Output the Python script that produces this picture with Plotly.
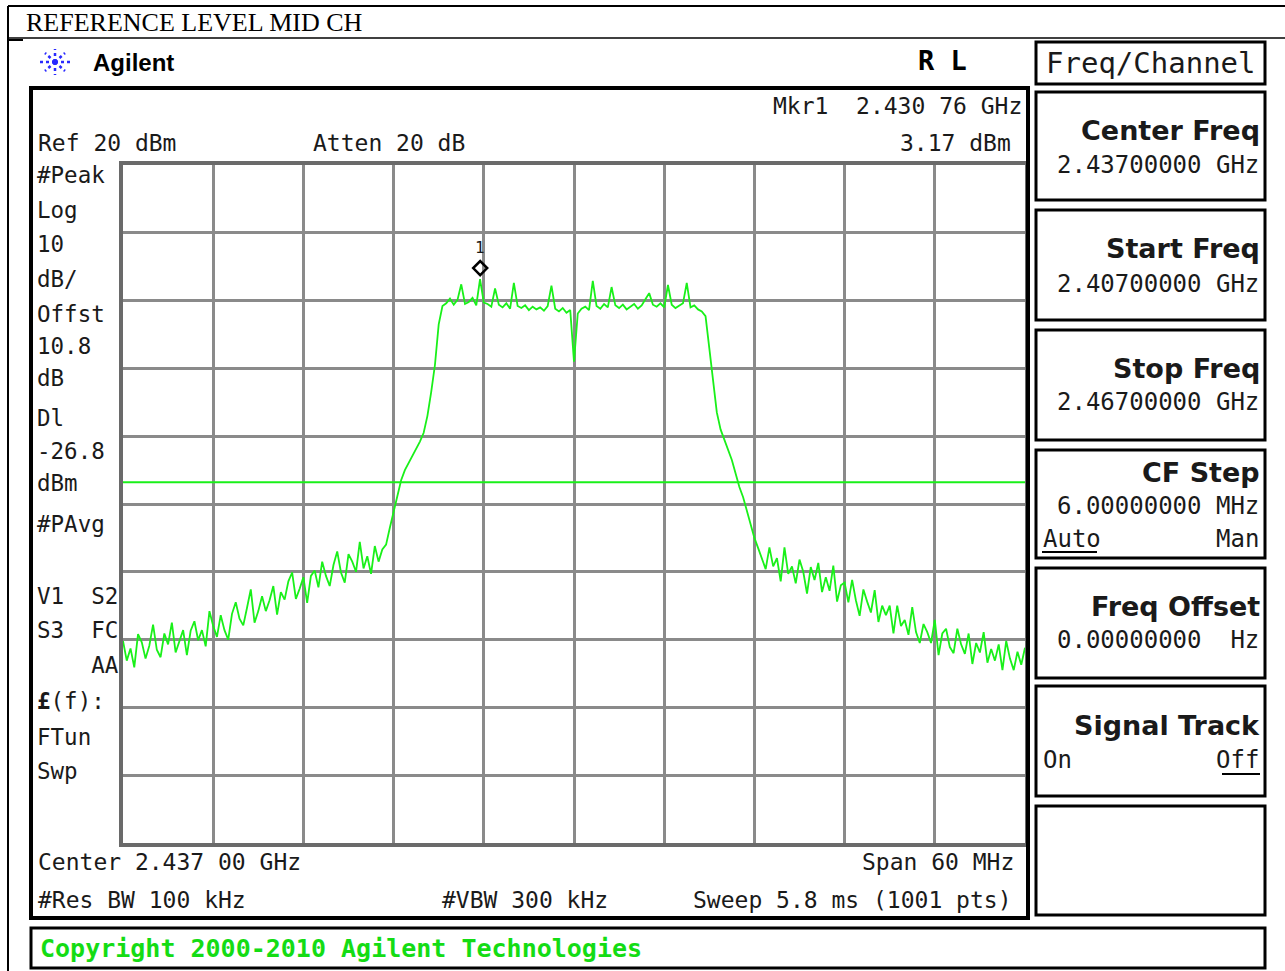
import numpy as np
import plotly.graph_objects as go

W, H = 1285, 971

# ---------------- data ----------------
freq_start_ghz = 2.407
freq_stop_ghz = 2.467
ref_level_dbm = 20
scale_db_div = 10
display_line_dbm = -26.8
marker_freq_ghz = 2.43076
marker_level_dbm = 3.17

left_skirt = [
    -50.2, -53.1, -51.3, -54.1, -49.2, -50.4, -52.8, -50.9, -47.8, -51.5,
    -52.6, -49.1, -50.7, -47.5, -51.9, -50.4, -48.6, -52.3, -48.7, -47.3,
    -50.1, -48.6, -51.0, -45.8, -48.0, -49.6, -46.4, -48.6, -50.0, -46.2,
    -44.5, -46.9, -47.9, -45.3, -42.6, -47.5, -45.8, -43.6, -45.8, -44.2,
    -42.1, -46.3, -43.0, -44.1, -41.4, -40.1, -44.0, -42.5, -40.8, -44.6,
    -40.6, -39.8, -42.3, -38.5, -40.6, -42.1, -39.0, -37.0, -40.1, -41.6,
    -37.4, -38.5, -40.0, -35.6, -39.5, -37.7, -40.3, -36.2, -38.5, -36.7,
]
rising_edge = [
    -36.0, -33.5, -31.0, -28.5, -26.5, -25.0, -24.0, -23.0, -22.0, -20.8,
    -19.5, -17.0, -13.5, -9.5, -3.5, -0.8,
]
channel_top = [
    -0.4, 0.3, -0.6, 0.1, 2.4, -0.5, -0.2, 0.4, -0.7, 3.17,
    -0.3, -0.5, -0.9, 1.8, -0.6, -1.0, -0.4, -1.2, 2.6, -0.8,
    -1.1, -0.7, -1.4, -0.9, -1.3, -1.0, -1.5, -0.8, 2.2, -1.2,
    -1.6, -1.1, -1.8, -1.4, -9.0, -1.9, -1.2, -0.9, -1.4, 2.9,
    -0.8, -1.2, -0.5, -1.0, 2.0, -0.7, -1.1, -0.6, -1.3, -0.9,
    -0.5, -1.2, -0.7, 0.2, 1.1, -0.6, -0.9, -0.4, -1.0, 2.3,
    -0.6, -1.1, -0.8, -0.4, 2.6, -1.0, -0.7, -1.3, -1.6, -2.3,
]
falling_edge = [
    -7.0, -12.0, -16.5, -19.0, -20.5, -22.0, -23.5, -25.5, -27.5, -29.0,
    -31.0, -33.0, -35.0, -36.5, -38.2,
]
right_skirt = [
    -39.6, -36.4, -39.2, -38.0, -41.4, -36.4, -40.3, -39.2, -41.7, -38.2,
    -40.0, -43.2, -39.3, -41.2, -38.7, -43.0, -40.8, -42.8, -39.1, -44.4,
    -42.0, -41.6, -44.5, -41.2, -44.2, -46.5, -42.6, -44.4, -46.0, -42.7,
    -47.4, -45.0, -46.4, -45.0, -49.1, -45.0, -48.0, -47.1, -49.3, -45.2,
    -48.9, -50.5, -47.7, -48.9, -50.5, -47.1, -52.3, -49.1, -48.4, -51.1,
    -52.0, -48.4, -50.7, -52.1, -49.1, -53.6, -50.5, -51.9, -48.9, -53.4,
    -51.4, -53.1, -50.7, -54.5, -50.2, -52.8, -54.5, -51.8, -53.7, -51.2,
]
levels_dbm = left_skirt + rising_edge + channel_top + falling_edge + right_skirt
freqs_ghz = np.linspace(freq_start_ghz, freq_stop_ghz, len(levels_dbm))

left_annot = ["#Peak", "Log", "10", "dB/", "Offst", "10.8", "dB", "Dl", "-26.8",
              "dBm", "#PAvg", "V1  S2", "S3  FC", "    AA", "<b>£</b>(f):", "FTun", "Swp"]

# ---------------- layout helpers ----------------
def P(px):
    return px / W

def Q(py):
    return 1 - py / H

X0, X1, Y0, Y1 = 123, 1025, 165, 843
MONO = "DejaVu Sans Mono"
TXT = "#1a1a1a"

fig = go.Figure()
fig.add_trace(go.Scatter(x=freqs_ghz, y=levels_dbm, mode="lines",
                         line=dict(color="#19f019", width=1.8), hoverinfo="skip",
                         showlegend=False))

shapes = []
annots = []

def text(px, py, s, size=23, anchor="left", color=TXT, family=MONO):
    annots.append(dict(x=P(px), y=Q(py), xref="paper", yref="paper", text=s,
                       showarrow=False, xanchor=anchor, yanchor="middle",
                       font=dict(family=family, size=size, color=color)))

def rect(x0, y0, x1, y1, color="black", width=3):
    shapes.append(dict(type="rect", xref="paper", yref="paper",
                       x0=P(x0), x1=P(x1), y0=Q(y0), y1=Q(y1),
                       line=dict(color=color, width=width)))

def line(x0, y0, x1, y1, color="black", width=1.5, dash="solid"):
    shapes.append(dict(type="line", xref="paper", yref="paper",
                       x0=P(x0), x1=P(x1), y0=Q(y0), y1=Q(y1),
                       line=dict(color=color, width=width, dash=dash)))

# outer document frame + title
line(8, 6, 1285, 6, width=2)
line(8, 6, 8, 971, width=2)
line(8, 38, 1285, 38, width=1.5)
line(8, 40, 23, 40, width=2)
text(24, 22, "REFERENCE LEVEL MID CH", size=26, color="black", family="Liberation Serif")

# Agilent logo
cx, cy = 55, 62
for dx, dy in [(15, 0), (-15, 0), (0, 13), (0, -13), (10, 9), (-10, -9), (10, -9), (-10, 9)]:
    line(cx, cy, cx + dx, cy + dy, color="#2a2aff", width=2.5, dash="dot")
text(91, 62, "<b>Agilent</b>", size=24, color="black", family="Liberation Sans")
text(969, 60, "<b>R L</b>", size=27, color="black", family=MONO, anchor="right")

# main display frame
rect(31, 88, 1028, 918, width=4)

# softkey panel
rect(1036, 42, 1265, 84, width=3)
text(1151, 63, "Freq/Channel", size=29, anchor="center")
boxes = [(92, 200), (210, 320), (330, 440), (450, 558), (568, 678), (686, 796), (806, 915)]
for y0, y1 in boxes:
    rect(1036, y0, 1265, y1, width=3)

SK = "DejaVu Sans"
def key(py, s):
    text(1262, py, "<b>" + s + "</b>", size=27, anchor="right", family=SK)

key(130, "Center Freq"); text(1261, 165, "2.43700000 GHz", size=24, anchor="right")
key(249, "Start Freq"); text(1261, 284, "2.40700000 GHz", size=24, anchor="right")
key(368, "Stop Freq"); text(1261, 402, "2.46700000 GHz", size=24, anchor="right")
key(472, "CF Step"); text(1261, 506, "6.00000000 MHz", size=24, anchor="right")
text(1041, 539, "Auto", size=24); line(1042, 552, 1097, 552, width=2)
text(1261, 539, "Man", size=24, anchor="right")
key(606, "Freq Offset"); text(1261, 640, "0.00000000  Hz", size=24, anchor="right")
key(725, "Signal Track")
text(1041, 760, "On", size=24)
text(1261, 760, "Off", size=24, anchor="right"); line(1222, 774, 1260, 774, width=2)

# copyright bar
rect(31, 928, 1265, 968, width=3)
text(38, 948, "<b>Copyright 2000-2010 Agilent Technologies</b>", size=25,
     color="#14dc14")

# analyzer annotations
text(36, 143, "Ref 20 dBm")
text(311, 143, "Atten 20 dB")
text(1024, 106, "Mkr1  2.430 76 GHz", anchor="right")
text(1013, 143, "3.17 dBm", anchor="right")
left_y = [175, 210, 244, 279, 314, 346, 378, 418, 451, 483, 524, 596, 630, 665, 701, 737, 771]
for s, py in zip(left_annot, left_y):
    text(35, py, s.replace(" ", "&nbsp;"), size=22.5)
text(36, 862, "Center 2.437 00 GHz")
text(1016, 862, "Span 60 MHz", anchor="right")
text(36, 900, "#Res BW 100 kHz")
text(440, 900, "#VBW 300 kHz")
text(1014, 900, "Sweep 5.8 ms (1001 pts)", anchor="right")

# display line
shapes.append(dict(type="line", xref="x", yref="y", x0=freq_start_ghz, x1=freq_stop_ghz,
                   y0=display_line_dbm, y1=display_line_dbm,
                   line=dict(color="#19f019", width=2)))

# marker diamond (pixel-sized, anchored at marker point)
shapes.append(dict(type="path", xref="x", yref="y", xsizemode="pixel", ysizemode="pixel",
                   xanchor=marker_freq_ghz, yanchor=marker_level_dbm,
                   path="M 0 4 L 7 11 L 0 18 L -7 11 Z",
                   line=dict(color="black", width=2.5)))
annots.append(dict(x=marker_freq_ghz, y=marker_level_dbm, xref="x", yref="y", text="1",
                   showarrow=False, yshift=32, xanchor="center", yanchor="middle",
                   font=dict(family=MONO, size=16, color=TXT)))

bottom_db = ref_level_dbm - 10 * scale_db_div
fig.update_layout(
    width=W, height=H, autosize=False,
    margin=dict(l=0, r=0, t=0, b=0),
    paper_bgcolor="white", plot_bgcolor="white",
    shapes=shapes, annotations=annots, showlegend=False,
    xaxis=dict(domain=[P(X0), P(X1)], range=[freq_start_ghz, freq_stop_ghz],
               dtick=(freq_stop_ghz - freq_start_ghz) / 10, tick0=freq_start_ghz,
               showticklabels=False, ticks="", showgrid=True, gridcolor="#8a8a8a",
               gridwidth=2.5, zeroline=False, showline=True, linecolor="#6a6a6a",
               linewidth=4, mirror=True, fixedrange=True),
    yaxis=dict(domain=[Q(Y1), Q(Y0)], range=[bottom_db, ref_level_dbm],
               dtick=scale_db_div, tick0=bottom_db,
               showticklabels=False, ticks="", showgrid=True, gridcolor="#8a8a8a",
               gridwidth=2.5, zeroline=False, showline=True, linecolor="#6a6a6a",
               linewidth=4, mirror=True, fixedrange=True),
)
fig.write_html("out.html", config={"displayModeBar": False})
